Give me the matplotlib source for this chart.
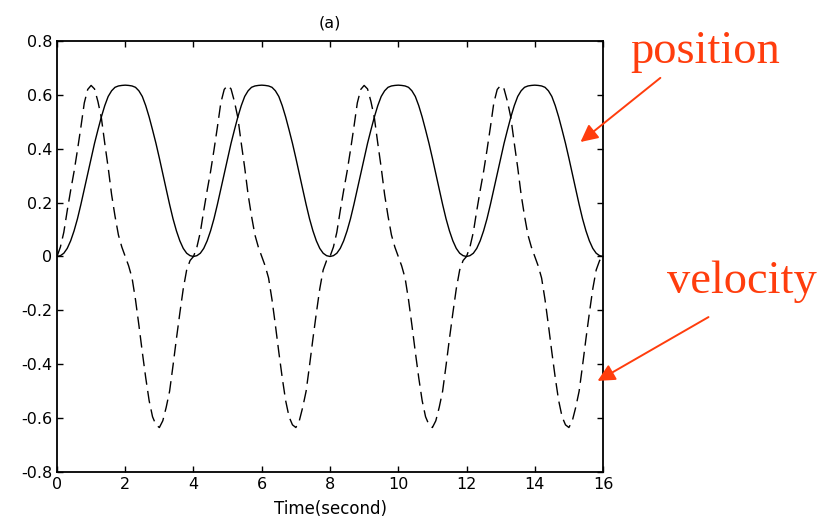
import matplotlib

matplotlib.use("Agg")
import matplotlib.pyplot as plt

# values, every 0.1 s over 0..16 s
time_s = [round(0.1 * i, 1) for i in range(161)]

position = [
    0.0, 0.003, 0.012, 0.03, 0.058, 0.095, 0.14, 0.193, 0.25, 0.307,
    0.365, 0.42, 0.47, 0.518, 0.56, 0.594, 0.615, 0.628, 0.633, 0.635,
    0.636, 0.635, 0.633, 0.628, 0.615, 0.594, 0.56, 0.518, 0.47, 0.42,
    0.365, 0.307, 0.25, 0.193, 0.14, 0.095, 0.058, 0.03, 0.012, 0.003,
    0.0, 0.003, 0.012, 0.03, 0.058, 0.095, 0.14, 0.193, 0.25, 0.307,
    0.365, 0.42, 0.47, 0.518, 0.56, 0.594, 0.615, 0.628, 0.633, 0.635,
    0.636, 0.635, 0.633, 0.628, 0.615, 0.594, 0.56, 0.518, 0.47, 0.42,
    0.365, 0.307, 0.25, 0.193, 0.14, 0.095, 0.058, 0.03, 0.012, 0.003,
    0.0, 0.003, 0.012, 0.03, 0.058, 0.095, 0.14, 0.193, 0.25, 0.307,
    0.365, 0.42, 0.47, 0.518, 0.56, 0.594, 0.615, 0.628, 0.633, 0.635,
    0.636, 0.635, 0.633, 0.628, 0.615, 0.594, 0.56, 0.518, 0.47, 0.42,
    0.365, 0.307, 0.25, 0.193, 0.14, 0.095, 0.058, 0.03, 0.012, 0.003,
    0.0, 0.003, 0.012, 0.03, 0.058, 0.095, 0.14, 0.193, 0.25, 0.307,
    0.365, 0.42, 0.47, 0.518, 0.56, 0.594, 0.615, 0.628, 0.633, 0.635,
    0.636, 0.635, 0.633, 0.628, 0.615, 0.594, 0.56, 0.518, 0.47, 0.42,
    0.365, 0.307, 0.25, 0.193, 0.14, 0.095, 0.058, 0.03, 0.012, 0.003,
    0.0,
]

velocity = [
    0.0, 0.035, 0.09, 0.17, 0.245, 0.315, 0.395, 0.48, 0.57, 0.62,
    0.635, 0.622, 0.575, 0.515, 0.42, 0.33, 0.23, 0.15, 0.08, 0.035,
    0.0, -0.035, -0.08, -0.16, -0.255, -0.355, -0.45, -0.535, -0.595, -0.625,
    -0.635, -0.61, -0.56, -0.5, -0.405, -0.305, -0.21, -0.12, -0.05, -0.015,
    0.0, 0.035, 0.09, 0.17, 0.245, 0.315, 0.395, 0.48, 0.57, 0.62,
    0.635, 0.622, 0.575, 0.515, 0.42, 0.33, 0.23, 0.15, 0.08, 0.035,
    0.0, -0.035, -0.08, -0.16, -0.255, -0.355, -0.45, -0.535, -0.595, -0.625,
    -0.635, -0.61, -0.56, -0.5, -0.405, -0.305, -0.21, -0.12, -0.05, -0.015,
    0.0, 0.035, 0.09, 0.17, 0.245, 0.315, 0.395, 0.48, 0.57, 0.62,
    0.635, 0.622, 0.575, 0.515, 0.42, 0.33, 0.23, 0.15, 0.08, 0.035,
    0.0, -0.035, -0.08, -0.16, -0.255, -0.355, -0.45, -0.535, -0.595, -0.625,
    -0.635, -0.61, -0.56, -0.5, -0.405, -0.305, -0.21, -0.12, -0.05, -0.015,
    0.0, 0.035, 0.09, 0.17, 0.245, 0.315, 0.395, 0.48, 0.57, 0.62,
    0.635, 0.622, 0.575, 0.515, 0.42, 0.33, 0.23, 0.15, 0.08, 0.035,
    0.0, -0.035, -0.08, -0.16, -0.255, -0.355, -0.45, -0.535, -0.595, -0.625,
    -0.635, -0.61, -0.56, -0.5, -0.405, -0.305, -0.21, -0.12, -0.05, -0.015,
    0.0,
]

x_ticks = [0, 2, 4, 6, 8, 10, 12, 14, 16]
y_ticks = [-0.8, -0.6, -0.4, -0.2, 0, 0.2, 0.4, 0.6, 0.8]
y_labels = ["-0.8", "-0.6", "-0.4", "-0.2", "0", "0.2", "0.4", "0.6", "0.8"]

RED = "#ff3d0d"

plt.rcParams["font.family"] = ["DejaVu Sans"]

fig = plt.figure(figsize=(8.38, 5.26), dpi=100)
ax = fig.add_axes([0.068, 0.1027, 0.6516, 0.8194])

ax.plot(time_s, position, color="black", lw=1.0)
ax.plot(time_s, velocity, color="black", lw=1.0, linestyle=(0, (9, 4.5)))

ax.set_xlim(0, 16)
ax.set_ylim(-0.8, 0.8)
ax.set_xticks(x_ticks)
ax.set_yticks(y_ticks)
ax.set_yticklabels(y_labels)
ax.tick_params(direction="in", length=4.5, width=1.0, top=True, right=True,
               labelsize=11.5, pad=3.5)
for s in ax.spines.values():
    s.set_linewidth(1.3)

ax.set_title("(a)", fontsize=11.5, pad=10)
ax.set_xlabel("Time(second)", fontsize=12)
ax.xaxis.set_label_coords(0.5, -0.066)

# red annotations on the right
ax.annotate("", xy=(15.34, 0.425), xytext=(17.68, 0.663),
            arrowprops=dict(arrowstyle="-|>", color=RED, lw=1.4,
                            mutation_scale=26, shrinkA=0, shrinkB=0),
            annotation_clip=False)
ax.text(19.0, 0.718, "position", color=RED, fontsize=33.5,
        family="Liberation Serif", ha="center", va="baseline", clip_on=False)

ax.annotate("", xy=(15.84, -0.462), xytext=(19.09, -0.225),
            arrowprops=dict(arrowstyle="-|>", color=RED, lw=1.4,
                            mutation_scale=26, shrinkA=0, shrinkB=0),
            annotation_clip=False)
ax.text(20.06, -0.135, "velocity", color=RED, fontsize=33.5,
        family="Liberation Serif", ha="center", va="baseline", clip_on=False)

fig.savefig("out.png", dpi=100)
